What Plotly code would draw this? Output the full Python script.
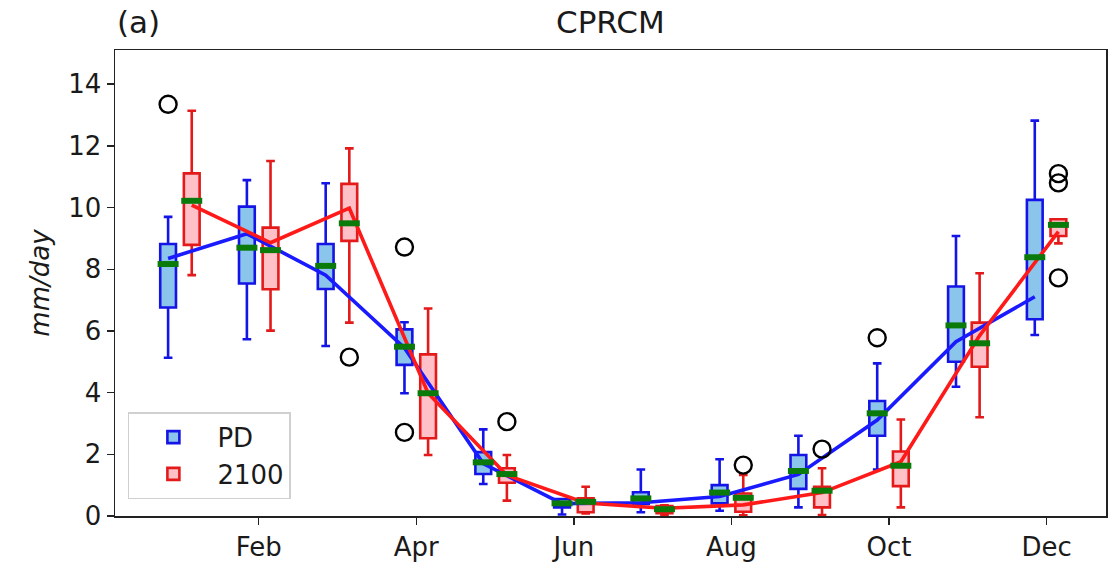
import plotly.graph_objects as go

months = list(range(1, 13))
tick_vals = [2, 4, 6, 8, 10, 12]
tick_text = ["Feb", "Apr", "Jun", "Aug", "Oct", "Dec"]

# Present-day (PD) box statistics, mm/day
pd_low = [5.13, 5.73, 5.51, 3.98, 1.04, 0.05, 0.12, 0.17, 0.28, 1.51, 4.19, 5.87]
pd_q1 = [6.76, 7.54, 7.36, 4.90, 1.36, 0.28, 0.39, 0.41, 0.88, 2.60, 5.00, 6.38]
pd_median = [8.17, 8.70, 8.11, 5.49, 1.74, 0.41, 0.57, 0.76, 1.46, 3.33, 6.18, 8.39]
pd_q3 = [8.82, 10.03, 8.82, 6.05, 2.07, 0.55, 0.77, 1.00, 1.98, 3.73, 7.44, 10.25]
pd_high = [9.70, 10.89, 10.79, 6.28, 2.81, 0.55, 1.51, 1.84, 2.60, 4.95, 9.08, 12.82]
pd_mean = [8.35, 9.15, 7.81, 5.45, 1.70, 0.40, 0.43, 0.63, 1.35, 3.11, 5.65, 7.11]
pd_out_month = [1, 4, 4, 10]
pd_out_value = [13.35, 8.72, 2.71, 5.78]

# 2100 box statistics, mm/day
fut_low = [7.81, 6.01, 6.27, 1.98, 0.50, 0.08, 0.02, 0.02, 0.03, 0.28, 3.20, 8.84]
fut_q1 = [8.79, 7.35, 8.92, 2.52, 1.08, 0.12, 0.09, 0.14, 0.28, 0.97, 4.84, 9.08]
fut_median = [10.22, 8.62, 9.49, 3.98, 1.36, 0.46, 0.22, 0.59, 0.82, 1.63, 5.60, 9.44]
fut_q3 = [11.11, 9.35, 10.77, 5.24, 1.55, 0.57, 0.32, 0.73, 0.95, 2.09, 6.27, 9.62]
fut_high = [13.14, 11.51, 11.92, 6.73, 1.98, 0.95, 0.35, 1.33, 1.55, 3.13, 7.87, 9.62]
fut_mean = [10.08, 8.86, 9.98, 3.98, 1.32, 0.42, 0.25, 0.36, 0.76, 1.76, 5.85, 9.22]
fut_out_month = [3, 5, 8, 9, 12, 12, 12]
fut_out_value = [5.15, 3.06, 1.65, 2.17, 11.10, 10.80, 7.72]

OFF = 0.15
BOXW = 0.2
pd_x = [m - OFF for m in months]
fut_x = [m + OFF for m in months]
pd_out_x = [m - OFF for m in pd_out_month]
fut_out_x = [m + OFF for m in fut_out_month]

PD_EDGE, PD_FILL, PD_LINE = "#1414e6", "#8cc5ec", "#1a1aff"
FUT_EDGE, FUT_FILL, FUT_LINE = "#e41a1a", "#ffc0c8", "#ff1a1a"
GREEN = "#0a7a0a"

fig = go.Figure()

fig.add_trace(go.Box(
    x=pd_x, q1=pd_q1, median=pd_median, q3=pd_q3,
    lowerfence=pd_low, upperfence=pd_high,
    width=BOXW, whiskerwidth=0.55, boxpoints=False,
    fillcolor=PD_FILL, line=dict(color=PD_EDGE, width=2.6),
    name="PD", showlegend=True, hoverinfo="skip"))
fig.add_trace(go.Box(
    x=fut_x, q1=fut_q1, median=fut_median, q3=fut_q3,
    lowerfence=fut_low, upperfence=fut_high,
    width=BOXW, whiskerwidth=0.55, boxpoints=False,
    fillcolor=FUT_FILL, line=dict(color=FUT_EDGE, width=2.6),
    name="2100", showlegend=True, hoverinfo="skip"))

# mean lines
fig.add_trace(go.Scatter(x=pd_x, y=pd_mean, mode="lines",
                         line=dict(color=PD_LINE, width=3.6), showlegend=False))
fig.add_trace(go.Scatter(x=fut_x, y=fut_mean, mode="lines",
                         line=dict(color=FUT_LINE, width=3.6), showlegend=False))

# green medians
for xs, meds in ((pd_x, pd_median), (fut_x, fut_median)):
    fig.add_trace(go.Scatter(
        x=xs, y=meds, mode="markers",
        marker=dict(symbol="line-ew", size=15, line=dict(color=GREEN, width=6)),
        showlegend=False))

# outliers
fig.add_trace(go.Scatter(
    x=pd_out_x + fut_out_x, y=pd_out_value + fut_out_value, mode="markers",
    marker=dict(symbol="circle-open", size=17, color="black", line=dict(width=2.4)),
    showlegend=False))

FONT = "DejaVu Sans"
TICK = 26
fig.update_layout(
    width=1109, height=568,
    margin=dict(l=115, r=1, t=50, b=52),
    paper_bgcolor="white", plot_bgcolor="white",
    font=dict(family=FONT, size=TICK, color="#1a1a1a"),
    boxmode="overlay",
    showlegend=True,
    legend=dict(x=0.013, y=0.036, xanchor="left", yanchor="bottom",
                bgcolor="rgba(255,255,255,0.85)", bordercolor="#d0d0d0", borderwidth=1.5,
                font=dict(size=TICK, family=FONT), itemwidth=78, tracegroupgap=4),
    xaxis=dict(range=[0.176, 12.754], tickvals=tick_vals, ticktext=tick_text,
               showgrid=False, zeroline=False, showline=True, linecolor="#222",
               linewidth=1.5, mirror=True, ticks="outside", ticklen=7, tickwidth=1.5,
               tickcolor="#222", tickfont=dict(size=TICK)),
    yaxis=dict(range=[0, 15.11], tickvals=[0, 2, 4, 6, 8, 10, 12, 14],
               showgrid=False, zeroline=False, showline=True, linecolor="#222",
               linewidth=1.5, mirror=True, ticks="outside", ticklen=7, tickwidth=1.5,
               tickcolor="#222", tickfont=dict(size=TICK)),
    annotations=[
        dict(text="CPRCM", x=0.5, y=1.06, xref="paper", yref="paper",
             xanchor="center", yanchor="middle", showarrow=False,
             font=dict(size=31, family=FONT)),
        dict(text="(a)", x=0.0, y=1.06, xref="paper", yref="paper",
             xanchor="left", yanchor="middle", showarrow=False,
             font=dict(size=31, family=FONT)),
        dict(text="<i>mm/day</i>", x=-0.076, y=0.5, xref="paper", yref="paper",
             xanchor="center", yanchor="middle", textangle=-90, showarrow=False,
             font=dict(size=TICK, family=FONT)),
    ],
)

fig.write_html("out.html", config={"displayModeBar": False, "staticPlot": True},
               post_script="document.body.style.margin='0';")
